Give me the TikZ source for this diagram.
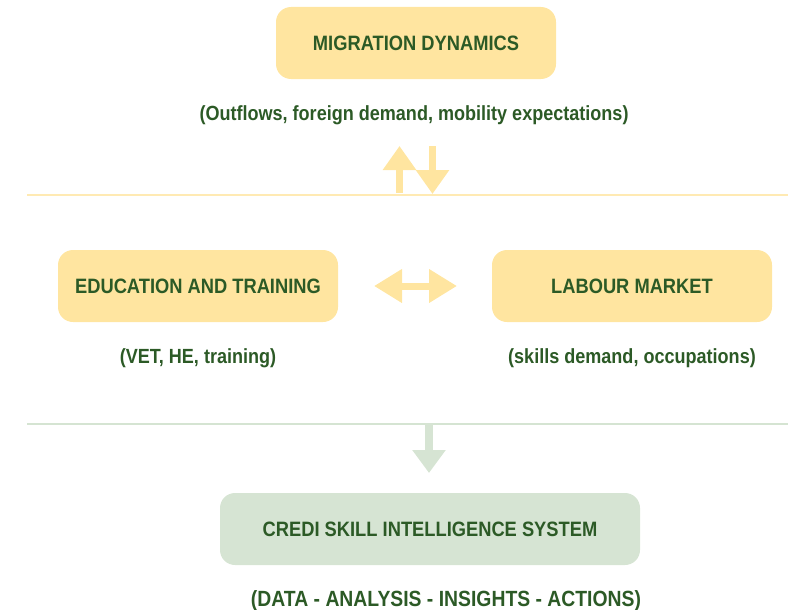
\documentclass[tikz,border=0pt]{standalone}
\usepackage{fontspec}
\setmainfont[FakeStretch=0.88]{Liberation Sans}
\usepackage{xcolor}
\usepackage{tikz}
\usetikzlibrary{arrows.meta, positioning, calc}

\definecolor{sandfill}{HTML}{FFE5A0}
\definecolor{sageline}{HTML}{D5E4D2}
\definecolor{sagefill}{HTML}{D6E4D3}
\definecolor{forest}{HTML}{2C5A26}

\begin{document}
\begin{tikzpicture}[
        x=1pt, y=1pt,
        node distance=22pt and 1cm,
        box/.style={rectangle, rounded corners=15pt, minimum width=280pt, minimum height=72pt, align=center, text=forest, font=\fontsize{20.8}{23}\selectfont\bfseries},
        sandbox/.style={box, fill=sandfill},
        sagebox/.style={box, fill=sagefill},
        caption/.style={text=forest, inner sep=0pt, font=\fontsize{20.5}{23}\selectfont\bfseries},
        fat/.style={line width=7pt},
        sandarrow/.style={fat, draw=sandfill, -{Triangle[length=24pt, width=32pt]}},
        sandboth/.style={fat, draw=sandfill, {Triangle[length=28pt, width=32pt]}-{Triangle[length=28pt, width=32pt]}},
        sagearrow/.style={line width=8pt, draw=sagefill, -{Triangle[length=23pt, width=32pt]}},
        rule/.style={line width=2pt}
    ]
        \useasboundingbox (0,0) rectangle (792,-610);

        % top: migration
        \node[sandbox] (migration) at (416,-43) {MIGRATION DYNAMICS};
        \node[caption] (migrationsub) at (414,-115) {(Outflows, foreign demand, mobility expectations)};

        % separators
        \draw[rule, draw=sandfill!80] (27,-195) -- (788,-195);
        \draw[rule, draw=sageline] (27,-424) -- (788,-424);

        % middle row
        \node[sandbox] (education) at (198,-286) {EDUCATION AND TRAINING};
        \node[sandbox] (labour) at (632,-286) {LABOUR MARKET};
        \node[caption] (educationsub) at (198,-358) {(VET, HE, training)};
        \node[caption] (laboursub) at (632,-358) {(skills demand, occupations)};

        % bottom: system
        \node[sagebox, minimum width=420pt] (credi) at (430,-529) {CREDI SKILL INTELLIGENCE SYSTEM};
        \node[caption, font=\fontsize{22}{24}\selectfont\bfseries] (credisub) at (446,-601) {(DATA - ANALYSIS - INSIGHTS - ACTIONS)};

        % arrow ends
        \coordinate (upfoot) at (399.5,-193);
        \coordinate (uptip) at (399.5,-146);
        \coordinate (downfoot) at (432.5,-146);
        \coordinate (downtip) at (432.5,-194);
        \coordinate (leftend) at (374,-286);
        \coordinate (rightend) at (457,-286);
        \coordinate (sagefoot) at (429,-423);
        \coordinate (sagetip) at (429,-473);

        % arrows
        \draw[sandarrow] (upfoot) -- (uptip);
        \draw[sandarrow] (downfoot) -- (downtip);
        \draw[sandboth] (leftend) -- (rightend);
        \draw[sagearrow] (sagefoot) -- (sagetip);
    \end{tikzpicture}
\end{document}
